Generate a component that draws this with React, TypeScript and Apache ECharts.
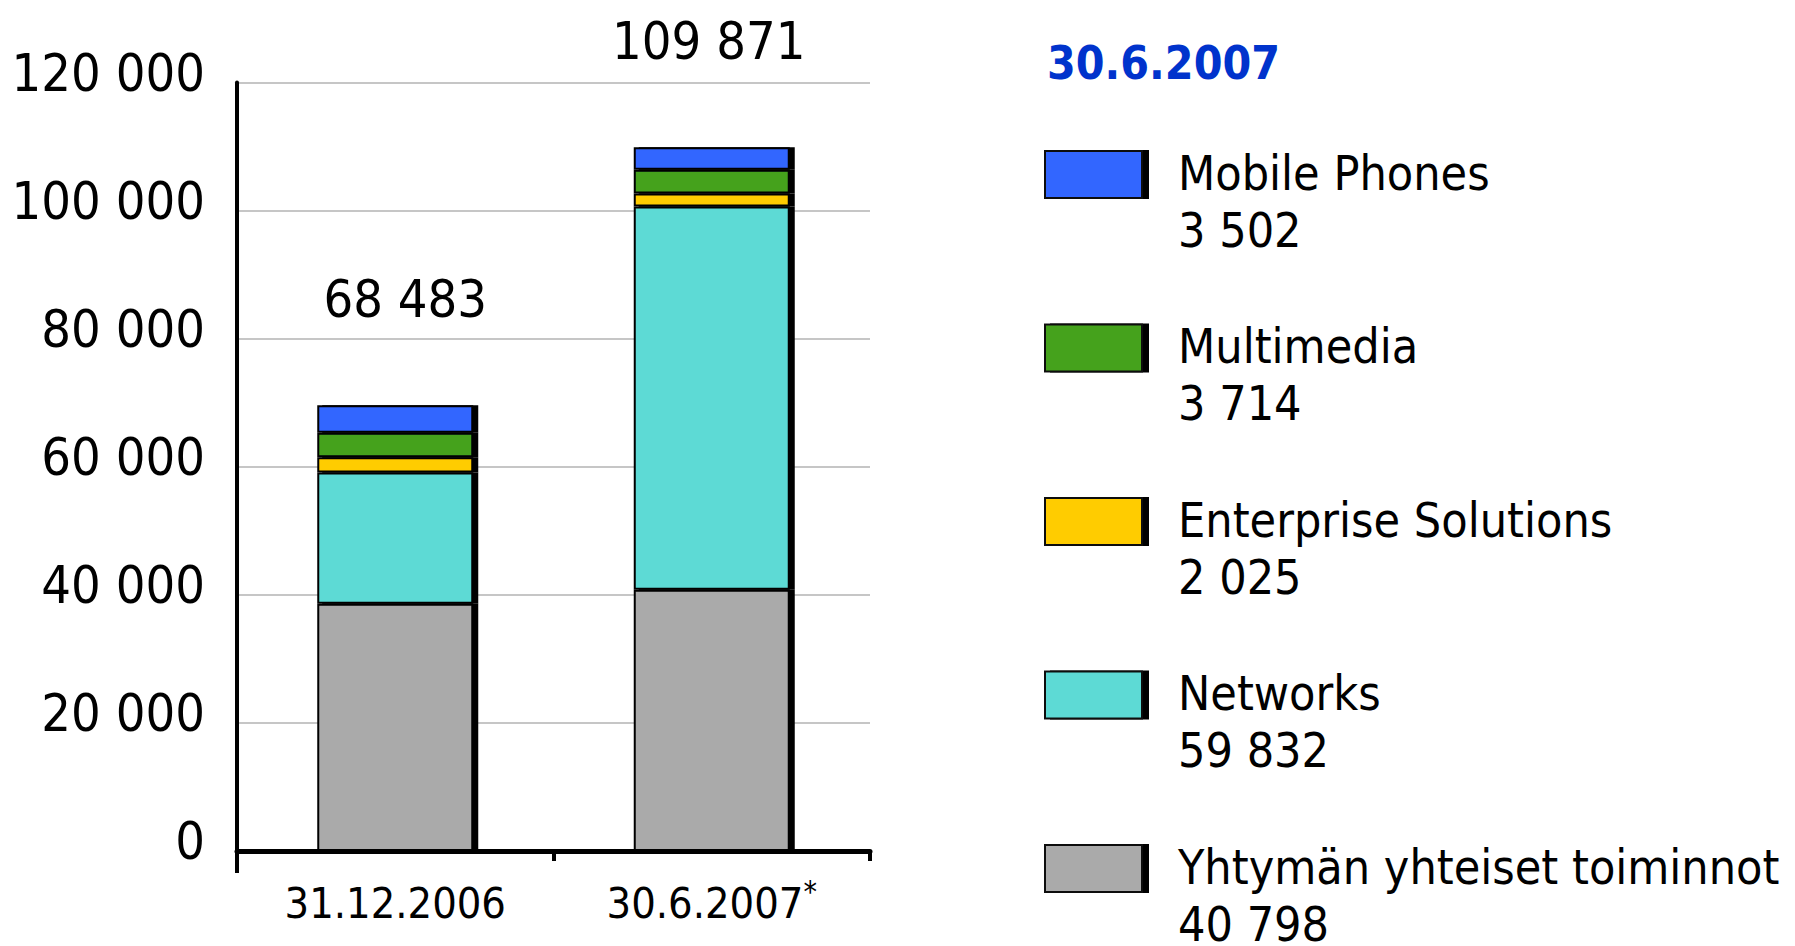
import React, { useEffect, useRef } from "react";
import * as echarts from "echarts";

const categories = ["31.12.2006", "30.6.2007*"];
const totals = [68483, 109871];
const legendTitle = "30.6.2007";

// stack order: bottom -> top
const seriesNames = [
  "Yhtymän yhteiset toiminnot",
  "Networks",
  "Enterprise Solutions",
  "Multimedia",
  "Mobile Phones",
];
const commonFunctions = [38600, 40798];
const networks = [20500, 59832];
const enterprise = [2400, 2025];
const multimedia = [3800, 3714];
const mobilePhones = [4300, 3502];
const seriesValues = [commonFunctions, networks, enterprise, multimedia, mobilePhones];
const seriesColors = ["#AAAAAA", "#5DDAD5", "#FFCC00", "#44A21E", "#3366FF"];

const yTicks = { min: 0, max: 120000, interval: 20000 };

// styling only: horizontal nudge of the total labels
const totalLabelShift = [10, -3];

const FONT = "'DejaVu Sans Condensed', 'DejaVu Sans', sans-serif";

const fmt = (v: number) => String(v).replace(/\B(?=(\d{3})+(?!\d))/g, " ");

export default function App() {
  const ref = useRef<HTMLDivElement>(null);
  useEffect(() => {
    if (!ref.current) return;
    const chart = echarts.init(ref.current, undefined, { renderer: "svg" });

    const isTop = (si: number) => si === seriesNames.length - 1;
    const series = seriesNames.map((name, si) => ({
      name,
      type: "bar",
      stack: "total",
      barWidth: 156,
      data: seriesValues[si].map((v, i) =>
        isTop(si) ? { value: v, label: { offset: [totalLabelShift[i], 0] } } : v
      ),
      itemStyle: {
        color: seriesColors[si],
        borderColor: "#000",
        borderWidth: 2,
        shadowColor: "#000",
        shadowOffsetX: 5,
        shadowOffsetY: 0,
        shadowBlur: 0,
      },
      label: isTop(si)
        ? {
            show: true,
            position: "top",
            distance: 80,
            formatter: (p: any) => fmt(totals[p.dataIndex]),
            fontSize: 52,
            fontFamily: FONT,
            color: "#000",
          }
        : { show: false },
    }));

    // legend drawn as graphic, from the arrays (top to bottom = reverse stack)
    const legendX = 1045;
    const legendTop = 151;
    const legendStep = 173.5;
    const graphics: any[] = [
      {
        type: "text",
        x: 1047,
        y: 63,
        style: {
          text: legendTitle,
          fontSize: 46,
          fontWeight: "bold",
          fontFamily: FONT,
          fill: "#0033CC",
          verticalAlign: "middle",
          lineHeight: 40,
        },
      },
      {
        type: "line",
        shape: { x1: 237, y1: 851, x2: 237, y2: 873 },
        style: { stroke: "#000", lineWidth: 4 },
      },
    ];
    const order = [...seriesNames.keys()].reverse();
    order.forEach((si, k) => {
      const y = legendTop + k * legendStep;
      graphics.push({
        type: "rect",
        shape: { x: legendX, y, width: 97, height: 47 },
        style: {
          fill: seriesColors[si],
          stroke: "#111",
          lineWidth: 2,
          shadowColor: "#000",
          shadowOffsetX: 6,
          shadowBlur: 0,
        },
      });
      graphics.push({
        type: "text",
        x: 1178,
        y: y + 21.5,
        style: {
          text: seriesNames[si],
          fontSize: 48,
          fontFamily: FONT,
          fill: "#000",
          verticalAlign: "middle",
          align: "left",
          lineHeight: 40,
        },
      });
      graphics.push({
        type: "text",
        x: 1178,
        y: y + 78.5,
        style: {
          text: fmt(seriesValues[si][1]),
          fontSize: 48,
          fontFamily: FONT,
          fill: "#000",
          verticalAlign: "middle",
          align: "left",
          lineHeight: 40,
        },
      });
    });

    chart.setOption({
      animation: false,
      backgroundColor: "#fff",
      grid: { left: 237, right: 925, top: 82.5, bottom: 95, containLabel: false },
      xAxis: {
        type: "category",
        data: categories,
        axisLine: { show: true, lineStyle: { color: "#000", width: 5 } },
        axisTick: { show: true, length: 10, lineStyle: { color: "#000", width: 4 } },
        axisLabel: {
          margin: 25,
          formatter: (v: string) =>
            v.endsWith("*") ? `{a|${v.slice(0, -1)}}{s|*}` : `{a|${v}}`,
          rich: {
            a: { fontSize: 43, lineHeight: 54, fontFamily: FONT, color: "#000" },
            s: { fontSize: 30, lineHeight: 30, fontFamily: FONT, color: "#000", verticalAlign: "top" },
          },
        },
        splitLine: { show: false },
      },
      yAxis: {
        type: "value",
        min: yTicks.min,
        max: yTicks.max,
        interval: yTicks.interval,
        axisLine: { show: true, lineStyle: { color: "#000", width: 4 } },
        axisTick: { show: false },
        axisLabel: {
          margin: 32,
          fontSize: 52,
          fontFamily: FONT,
          color: "#000",
          verticalAlign: "bottom",
          lineHeight: 20,
          formatter: (v: number) => fmt(v),
        },
        splitLine: { show: true, lineStyle: { color: "#C6C6C6", width: 2 } },
      },
      series,
      graphic: graphics,
    });
    return () => chart.dispose();
  }, []);
  return (
    <div
      ref={ref}
      style={{ position: "fixed", left: 0, top: 0, width: 1795, height: 946, background: "#fff" }}
    />
  );
}
